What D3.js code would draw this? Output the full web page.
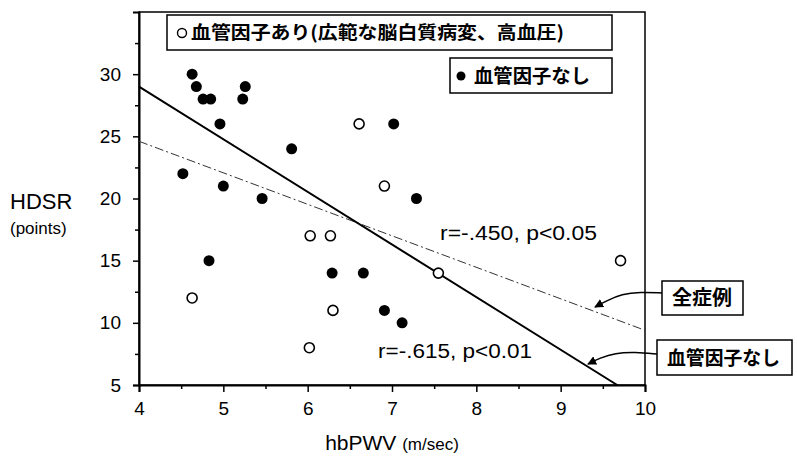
<!DOCTYPE html>
<html lang="ja">
<head>
<meta charset="utf-8">
<title>HDSR vs hbPWV</title>
<script src="https://d3js.org/d3.v7.min.js"></script>
<style>
body { margin: 0; background: #fff; }
svg { display: block; background: #fff; }
.lat { font-family: "Liberation Sans", Arial, sans-serif; fill: #000; }
.jp { font-family: "Noto Sans CJK JP", sans-serif; font-weight: 700; fill: #000; }
</style>
</head>
<body>
<script>
// hbPWV (m/sec) and HDSR (points)
var noFactorX = [4.63, 4.68, 4.76, 4.85, 5.26, 5.23, 4.96, 5.81, 4.52, 5.00, 5.46, 4.83, 6.29, 6.66, 6.91, 7.12, 7.29, 7.02];
var noFactorY = [30, 29, 28, 28, 29, 28, 26, 24, 22, 21, 20, 15, 14, 14, 11, 10, 20, 26];
var factorX = [6.61, 6.91, 6.03, 6.27, 4.63, 6.30, 6.02, 7.55, 9.71];
var factorY = [26, 21, 17, 17, 12, 11, 8, 14, 15];

// regression lines (end points in data units)
var lineNoFactor = [[4, 29.0], [9.67, 5]];
var lineAll = [[4, 24.6], [10, 9.4]];

var xTicks = [4, 5, 6, 7, 8, 9, 10];
var xMinor = [4.5, 5.5, 6.5, 7.5, 8.5, 9.5];
var yTicks = [5, 10, 15, 20, 25, 30];
var yMinor = [7.5, 12.5, 17.5, 22.5, 27.5, 32.5];

var width = 797, height = 462;
var svg = d3.select("body").append("svg").attr("width", width).attr("height", height);

var x = d3.scaleLinear().domain([4, 10]).range([139, 645]);
var y = d3.scaleLinear().domain([5, 35]).range([385, 12]);

// frame
svg.append("rect")
  .attr("x", x(4)).attr("y", y(35))
  .attr("width", x(10) - x(4)).attr("height", y(5) - y(35))
  .attr("fill", "none").attr("stroke", "#000").attr("stroke-width", 1.5);

// x axis
var xAxis = svg.append("g").attr("transform", "translate(0," + y(5) + ")")
  .call(d3.axisBottom(x).tickValues(xTicks).tickSize(7).tickPadding(10).tickFormat(d3.format("d")));
svg.append("g").attr("transform", "translate(0," + y(5) + ")")
  .call(d3.axisBottom(x).tickValues(xMinor).tickSize(4).tickFormat(""))
  .select(".domain").remove();

// y axis
var yAxis = svg.append("g").attr("transform", "translate(" + x(4) + ",0)")
  .call(d3.axisLeft(y).tickValues(yTicks).tickSize(6).tickPadding(12).tickFormat(d3.format("d")));
svg.append("g").attr("transform", "translate(" + x(4) + ",0)")
  .call(d3.axisLeft(y).tickValues(yMinor).tickSize(4).tickFormat(""))
  .select(".domain").remove();

svg.selectAll(".domain").attr("stroke-width", 2).attr("stroke", "#000");
svg.selectAll(".tick line").attr("stroke-width", 1.5).attr("stroke", "#000");
svg.selectAll(".tick text")
  .attr("class", "lat").style("font-size", "19px").attr("fill", "#000");

// axis titles
svg.append("text").attr("class", "lat")
  .attr("x", 10).attr("y", 209).style("font-size", "22px").text("HDSR");
svg.append("text").attr("class", "lat")
  .attr("x", 10).attr("y", 234).style("font-size", "17px").text("(points)");
var xt = svg.append("text").attr("class", "lat")
  .attr("x", (x(4) + x(10)) / 2).attr("y", 450).attr("text-anchor", "middle");
xt.append("tspan").style("font-size", "21px").text("hbPWV ");
xt.append("tspan").style("font-size", "17px").text("(m/sec)");

// regression lines
var line = d3.line().x(function(d) { return x(d[0]); }).y(function(d) { return y(d[1]); });
svg.append("path").datum(lineAll).attr("d", line)
  .attr("fill", "none").attr("stroke", "#333").attr("stroke-width", 1)
  .attr("stroke-dasharray", "9,3,2,3");
svg.append("path").datum(lineNoFactor).attr("d", line)
  .attr("fill", "none").attr("stroke", "#000").attr("stroke-width", 2);

// points
svg.append("g").selectAll("circle")
  .data(d3.range(factorX.length))
  .enter().append("circle")
  .attr("cx", function(i) { return x(factorX[i]); })
  .attr("cy", function(i) { return y(factorY[i]); })
  .attr("r", 5)
  .attr("fill", "#fff").attr("stroke", "#000").attr("stroke-width", 1.6);
svg.append("g").selectAll("circle")
  .data(d3.range(noFactorX.length))
  .enter().append("circle")
  .attr("cx", function(i) { return x(noFactorX[i]); })
  .attr("cy", function(i) { return y(noFactorY[i]); })
  .attr("r", 5.5)
  .attr("fill", "#000");

// correlation labels
svg.append("text").attr("class", "lat")
  .attr("x", 440).attr("y", 240).style("font-size", "20px")
  .attr("textLength", 157).attr("lengthAdjust", "spacingAndGlyphs")
  .text("r=-.450, p<0.05");
svg.append("text").attr("class", "lat")
  .attr("x", 378).attr("y", 358).style("font-size", "20px")
  .attr("textLength", 154).attr("lengthAdjust", "spacingAndGlyphs")
  .text("r=-.615, p<0.01");

// legend boxes
function box(x0, y0, w, h) {
  svg.append("rect").attr("x", x0).attr("y", y0).attr("width", w).attr("height", h)
    .attr("fill", "#fff").attr("stroke", "#000").attr("stroke-width", 1.5);
}
box(167, 15, 445, 35);
svg.append("circle").attr("cx", 182).attr("cy", 33).attr("r", 4.5)
  .attr("fill", "#fff").attr("stroke", "#000").attr("stroke-width", 1.4);
svg.append("text").attr("class", "jp")
  .attr("x", 191).attr("y", 39).style("font-size", "18px")
  .attr("textLength", 373).attr("lengthAdjust", "spacingAndGlyphs")
  .text("血管因子あり(広範な脳白質病変、高血圧)");

box(450, 58, 162, 35);
svg.append("circle").attr("cx", 461).attr("cy", 76).attr("r", 4.5).attr("fill", "#000");
svg.append("text").attr("class", "jp")
  .attr("x", 474).attr("y", 83).style("font-size", "19px")
  .attr("textLength", 116).attr("lengthAdjust", "spacingAndGlyphs")
  .text("血管因子なし");

// annotation boxes with arrows
svg.append("defs").append("marker")
  .attr("id", "head").attr("viewBox", "0 0 10 10").attr("refX", 9).attr("refY", 5)
  .attr("markerWidth", 9).attr("markerHeight", 9).attr("markerUnits", "userSpaceOnUse")
  .attr("orient", "auto")
  .append("path").attr("d", "M0,0L10,5L0,10Z").attr("fill", "#000");

box(662, 281, 81, 34);
svg.append("text").attr("class", "jp")
  .attr("x", 672).attr("y", 305).style("font-size", "20px")
  .attr("textLength", 60).attr("lengthAdjust", "spacingAndGlyphs")
  .text("全症例");

box(657, 340, 135, 35);
svg.append("text").attr("class", "jp")
  .attr("x", 667).attr("y", 365).style("font-size", "19px")
  .attr("textLength", 113).attr("lengthAdjust", "spacingAndGlyphs")
  .text("血管因子なし");

var curve = d3.line().curve(d3.curveBasis);
svg.append("path")
  .attr("d", curve([[662, 293], [640, 292], [622, 294], [606, 301], [595, 307]]))
  .attr("fill", "none").attr("stroke", "#000").attr("stroke-width", 1.5)
  .attr("marker-end", "url(#head)");
svg.append("path")
  .attr("d", curve([[657, 354], [635, 352], [615, 353], [600, 358], [588, 364]]))
  .attr("fill", "none").attr("stroke", "#000").attr("stroke-width", 1.5)
  .attr("marker-end", "url(#head)");
</script>
</body>
</html>
